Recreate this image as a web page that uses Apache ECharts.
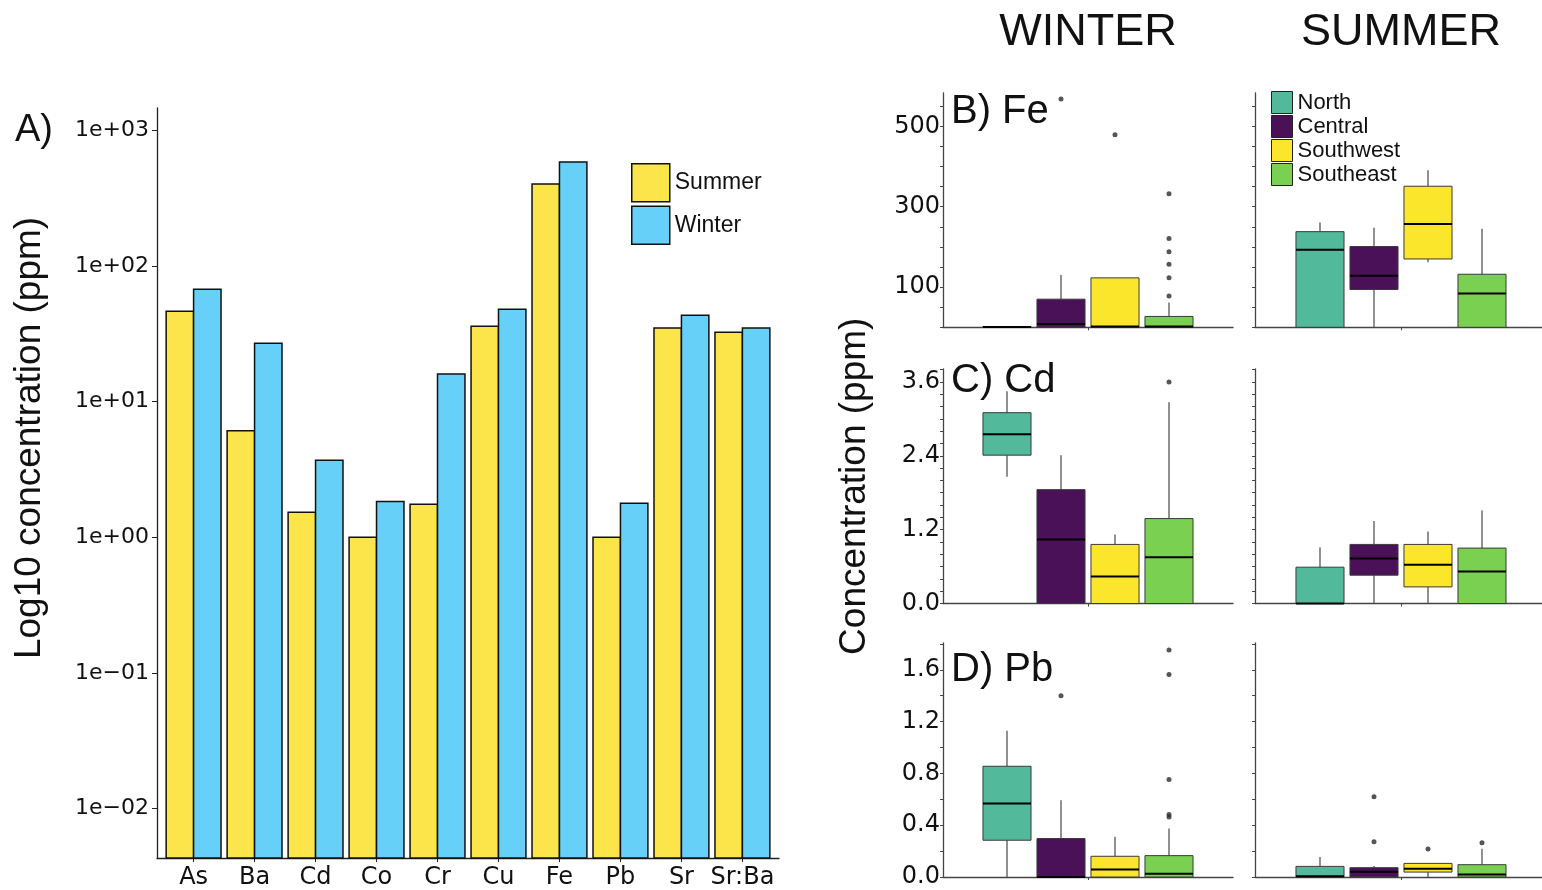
<!DOCTYPE html>
<html>
<head>
<meta charset="utf-8">
<script src="https://cdn.jsdelivr.net/npm/echarts@6/dist/echarts.min.js"></script>
<style>
  html, body { margin: 0; padding: 0; background: #ffffff; }
  #chart { width: 1542px; height: 890px; }
</style>
</head>
<body>
<div id="chart"></div>
<script>
// ---- Panel A: seasonal concentrations (log scale) ----
const elements = ['As', 'Ba', 'Cd', 'Co', 'Cr', 'Cu', 'Fe', 'Pb', 'Sr', 'Sr:Ba'];
const summerMeans = [46.5, 6.1, 1.53, 1.0, 1.75, 36, 403, 1.0, 35, 32.6];
const winterMeans = [67.5, 27, 3.7, 1.84, 16, 48, 586, 1.78, 43.5, 35];
const logTickValues = [0.01, 0.1, 1, 10, 100, 1000];

// ---- Panels B-D: box statistics per region ----
// each box: [lower whisker, Q1, median, Q3, upper whisker]
const regions = ['North', 'Central', 'Southwest', 'Southeast'];

const feWinterBoxes = [[0, 0, 1, 2, 3], [0, 0, 8, 70, 130], [0, 0, 2, 123, 123], [0, 0, 2, 27, 62]];
const feWinterOutliers = [[], [568], [479], [78, 123, 157, 188, 221, 332]];
const feSummerBoxes = [[0, 0, 193, 238, 261], [0, 94, 128, 201, 248], [162, 170, 257, 351, 391], [0, 0, 84, 132, 245]];
const feSummerOutliers = [[], [], [], []];

const cdWinterBoxes = [[2.06, 2.41, 2.75, 3.10, 3.45], [0, 0, 1.04, 1.85, 2.41], [0, 0, 0.44, 0.96, 1.12], [0, 0, 0.75, 1.38, 3.27]];
const cdWinterOutliers = [[], [], [], [3.60]];
const cdSummerBoxes = [[0, 0, 0, 0.59, 0.91], [0, 0.46, 0.73, 0.96, 1.34], [0, 0.27, 0.63, 0.96, 1.17], [0, 0, 0.52, 0.90, 1.51]];
const cdSummerOutliers = [[], [], [], []];

const pbWinterBoxes = [[0, 0.284, 0.567, 0.855, 1.13], [0, 0, 0, 0.297, 0.593], [0, 0, 0.057, 0.16, 0.31], [0, 0, 0.026, 0.165, 0.374]];
const pbWinterOutliers = [[], [1.40], [], [0.464, 0.482, 0.753, 1.564, 1.752]];
const pbSummerBoxes = [[0, 0, 0.005, 0.082, 0.154], [0, 0, 0.04, 0.072, 0.085], [0, 0.038, 0.064, 0.105, 0.105], [0, 0, 0.02, 0.095, 0.218]];
const pbSummerOutliers = [[], [0.272, 0.619], [0.216], [0.264]];

const feTickLabels = [100, 300, 500];
const cdTickLabels = [0, 1.2, 2.4, 3.6];
const pbTickLabels = [0, 0.4, 0.8, 1.2, 1.6];

// ---- styling / layout ----
const SANS = "'Liberation Sans', Arial, Helvetica, sans-serif";
const DJV = "'DejaVu Sans', sans-serif";
const SUMMER_COLOR = '#FBE54B';
const WINTER_COLOR = '#67D0F8';
const REGION_COLORS = ['#52B99A', '#4A1159', '#FCE62C', '#7AD151'];

const panelRows = [
  { title: 'B) Fe', titleY: 112, top: 93, height: 234.3, max: 583, step: 50, digits: 0,
    labels: feTickLabels, boxes: [feWinterBoxes, feSummerBoxes], outliers: [feWinterOutliers, feSummerOutliers] },
  { title: 'C) Cd', titleY: 381, top: 369, height: 234.5, max: 3.81, step: 0.2, digits: 1,
    labels: cdTickLabels, boxes: [cdWinterBoxes, cdSummerBoxes], outliers: [cdWinterOutliers, cdSummerOutliers] },
  { title: 'D) Pb', titleY: 670, top: 643, height: 234, max: 1.807, step: 0.2, digits: 1,
    labels: pbTickLabels, boxes: [pbWinterBoxes, pbSummerBoxes], outliers: [pbWinterOutliers, pbSummerOutliers] }
];
const panelCols = [
  { left: 943, width: 290, showLabels: true },
  { left: 1255, width: 292, showLabels: false }
];
const PX_PER_GROUP = 54;     // horizontal spacing between dodged boxes
const BOX_HALF = 0.445;      // half box width in group units
const BAR_HALF = 0.45;       // bar width in category units

function sciLabel(v) {
  const e = Math.round(Math.log10(v));
  return '1e' + (e < 0 ? '\u2212' : '+') + String(Math.abs(e)).padStart(2, '0');
}

function renderBar(side) {
  return function (params, api) {
    const x = api.value(0);
    const v = api.value(1);
    const left = side < 0 ? x - BAR_HALF : x;
    const pTop = api.coord([left, v]);
    const pRight = api.coord([left + BAR_HALF, v]);
    const bottom = params.coordSys.y + params.coordSys.height;
    return {
      type: 'rect',
      shape: { x: pTop[0], y: pTop[1], width: pRight[0] - pTop[0], height: bottom - pTop[1] },
      style: { fill: api.visual('color'), stroke: '#111', lineWidth: 1.5 }
    };
  };
}

function renderBox(params, api) {
  const x = api.value(0);
  const lo = api.value(1), q1 = api.value(2), med = api.value(3), q3 = api.value(4), hi = api.value(5);
  const pTL = api.coord([x - BOX_HALF, q3]);
  const pBR = api.coord([x + BOX_HALF, q1]);
  const pLo = api.coord([x, lo]);
  const pQ1 = api.coord([x, q1]);
  const pQ3 = api.coord([x, q3]);
  const pHi = api.coord([x, hi]);
  const pML = api.coord([x - BOX_HALF, med]);
  const pMR = api.coord([x + BOX_HALF, med]);
  const whisker = { stroke: '#555', lineWidth: 1.3 };
  return {
    type: 'group',
    children: [
      { type: 'line', shape: { x1: pHi[0], y1: pHi[1], x2: pQ3[0], y2: pQ3[1] }, style: whisker },
      { type: 'line', shape: { x1: pLo[0], y1: pLo[1], x2: pQ1[0], y2: pQ1[1] }, style: whisker },
      { type: 'rect', shape: { x: pTL[0], y: pTL[1], width: pBR[0] - pTL[0], height: Math.max(pBR[1] - pTL[1], 0.8) },
        style: { fill: api.visual('color'), stroke: '#3a3a3a', lineWidth: 1 } },
      { type: 'line', shape: { x1: pML[0], y1: pML[1], x2: pMR[0], y2: pMR[1] }, style: { stroke: '#000', lineWidth: 2 } }
    ]
  };
}

const grids = [{ left: 157, top: 108, width: 622, height: 750, outerBoundsMode: 'none' }];
const xAxes = [{
  type: 'value', gridIndex: 0, min: 0.4, max: 10.6,
  axisLine: { show: true, onZero: false, lineStyle: { color: '#222', width: 1.3 } },
  axisTick: { show: true, length: 4, customValues: elements.map((_, i) => i + 1), lineStyle: { color: '#222' } },
  axisLabel: { customValues: elements.map((_, i) => i + 1), formatter: v => elements[Math.round(v) - 1],
    fontSize: 24, fontFamily: DJV, color: '#111', margin: 8 },
  splitLine: { show: false }
}];
const yAxes = [{
  type: 'log', logBase: 10, gridIndex: 0, min: 0.004315, max: 1466,
  axisLine: { show: true, onZero: false, lineStyle: { color: '#222', width: 1.3 } },
  axisTick: { show: true, length: 5, customValues: logTickValues, lineStyle: { color: '#222' } },
  axisLabel: { customValues: logTickValues, formatter: sciLabel, fontSize: 22, fontFamily: DJV, color: '#111', margin: 8 },
  splitLine: { show: false }
}];

const series = [
  { type: 'custom', name: 'Summer', xAxisIndex: 0, yAxisIndex: 0, renderItem: renderBar(-1),
    itemStyle: { color: SUMMER_COLOR }, encode: { x: 0, y: 1 },
    data: summerMeans.map((v, i) => [i + 1, v]) },
  { type: 'custom', name: 'Winter', xAxisIndex: 0, yAxisIndex: 0, renderItem: renderBar(1),
    itemStyle: { color: WINTER_COLOR }, encode: { x: 0, y: 1 },
    data: winterMeans.map((v, i) => [i + 1, v]) }
];

const graphics = [
  { type: 'text', x: 15, y: 131, style: { text: 'A)', fontSize: 38, fontFamily: SANS, fill: '#111', align: 'left', verticalAlign: 'middle' } },
  { type: 'text', x: 30, y: 438, rotation: Math.PI / 2,
    style: { text: 'Log10 concentration (ppm)', fontSize: 37, fontFamily: SANS, fill: '#111', align: 'center', verticalAlign: 'middle' } },
  { type: 'text', x: 1088, y: 33, style: { text: 'WINTER', fontSize: 45, fontFamily: SANS, fill: '#111', align: 'center', verticalAlign: 'middle' } },
  { type: 'text', x: 1401, y: 33, style: { text: 'SUMMER', fontSize: 45, fontFamily: SANS, fill: '#111', align: 'center', verticalAlign: 'middle' } }
];

panelRows.forEach((row, r) => {
  const ticks = [];
  for (let k = 0; k * row.step <= row.max + 1e-9; k++) ticks.push(Math.round(k * row.step * 1e6) / 1e6);
  graphics.push({ type: 'text', x: 951, y: row.titleY,
    style: { text: row.title, fontSize: 40, fontFamily: SANS, fill: '#111', align: 'left', verticalAlign: 'middle' } });
  panelCols.forEach((col, c) => {
    const idx = grids.length;
    grids.push({ left: col.left, top: row.top, width: col.width, height: row.height, outerBoundsMode: 'none' });
    const halfSpan = col.width / 2 / PX_PER_GROUP;
    xAxes.push({
      type: 'value', gridIndex: idx, min: 2.5 - halfSpan, max: 2.5 + halfSpan,
      axisLine: { show: true, onZero: false, lineStyle: { color: '#444', width: 1.3 } },
      axisTick: { show: true, length: 3, customValues: [2.5], lineStyle: { color: '#444' } },
      axisLabel: { show: false },
      splitLine: { show: false }
    });
    const yAxis = {
      type: 'value', gridIndex: idx, min: 0, max: row.max,
      axisLine: { show: true, onZero: false, lineStyle: { color: '#444', width: 1.3 } },
      axisTick: { show: true, length: 3, customValues: ticks, lineStyle: { color: '#444' } },
      axisLabel: { show: col.showLabels, customValues: row.labels, formatter: v => v.toFixed(row.digits),
        fontSize: 24, fontFamily: DJV, color: '#111', margin: 3 },
      splitLine: { show: false }
    };
    if (r === 1 && c === 0) {
      Object.assign(yAxis, {
        name: 'Concentration (ppm)', nameLocation: 'middle', nameRotate: 90, nameGap: 70,
        nameTextStyle: { fontSize: 37, fontFamily: SANS, color: '#111' }
      });
    }
    yAxes.push(yAxis);

    regions.forEach((reg, k) => {
      series.push({
        type: 'custom', name: reg, xAxisIndex: idx, yAxisIndex: idx, renderItem: renderBox,
        itemStyle: { color: REGION_COLORS[k] }, encode: { x: 0, y: [1, 2, 3, 4, 5] },
        data: [[k + 1].concat(row.boxes[c][k])]
      });
      const outs = row.outliers[c][k];
      if (outs.length) {
        series.push({
          type: 'scatter', name: reg + ' outliers', xAxisIndex: idx, yAxisIndex: idx,
          symbol: 'circle', symbolSize: 5, itemStyle: { color: '#2b2b2b' }, silent: true,
          data: outs.map(v => [k + 1, v])
        });
      }
    });
  });
});

const option = {
  backgroundColor: '#ffffff',
  animation: false,
  grid: grids,
  xAxis: xAxes,
  yAxis: yAxes,
  legend: [
    { data: ['Summer', 'Winter'], orient: 'vertical', left: 631, top: 163, padding: 0,
      itemWidth: 38, itemHeight: 38, itemGap: 3, icon: 'rect', selectedMode: false,
      itemStyle: { borderColor: '#111', borderWidth: 1.5 },
      textStyle: { fontSize: 23, fontFamily: SANS, color: '#111' } },
    { data: regions, orient: 'vertical', left: 1271, top: 91, padding: 0,
      itemWidth: 21, itemHeight: 22, itemGap: 1, icon: 'rect', selectedMode: false,
      itemStyle: { borderColor: '#222', borderWidth: 1 },
      textStyle: { fontSize: 22, fontFamily: SANS, color: '#111' } }
  ],
  graphic: graphics,
  series: series
};

const chart = echarts.init(document.getElementById('chart'), null, { renderer: 'canvas' });
chart.setOption(option);
</script>
</body>
</html>
